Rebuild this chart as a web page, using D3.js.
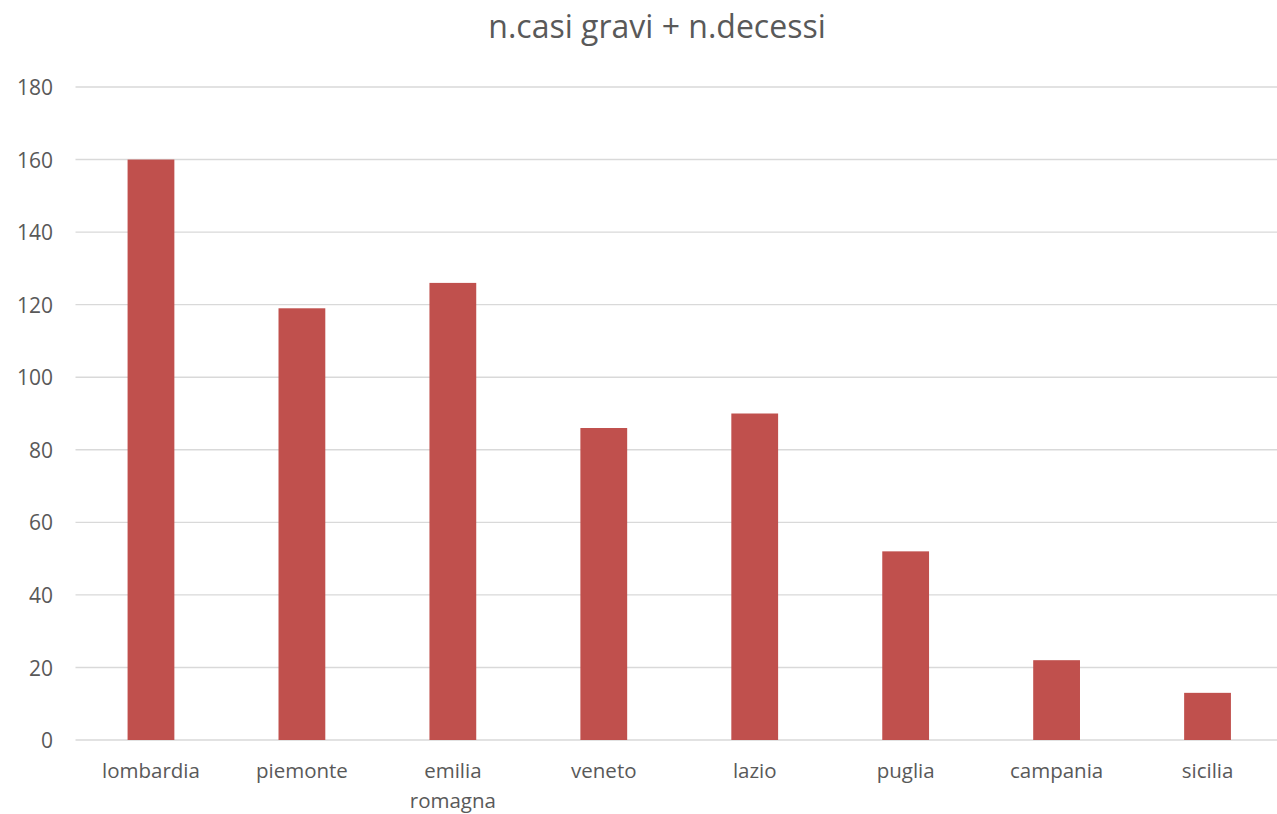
<!DOCTYPE html>
<html>
<head>
<meta charset="utf-8">
<script src="https://cdn.jsdelivr.net/npm/d3@7"></script>
<style>
  html, body { margin: 0; padding: 0; background: #fff; }
  svg { display: block; }
  svg text { font-family: "Open Sans", Lato, sans-serif; fill: #595959; }
</style>
</head>
<body>
<svg id="chart" width="1277" height="814"></svg>
<script>
// Regions and combined count of severe cases plus deaths
const categories = ["lombardia", "piemonte", "emilia romagna", "veneto", "lazio", "puglia", "campania", "sicilia"];
const values = [160, 119, 126, 86, 90, 52, 22, 13];
const yTicks = [0, 20, 40, 60, 80, 100, 120, 140, 160, 180];
const title = "n.casi gravi + n.decessi";

const svg = d3.select("#chart");
const margin = { left: 75.5, right: -6, top: 87, bottom: 74 };
const W = 1277, H = 814;

const x = d3.scaleBand()
  .domain(categories)
  .range([margin.left, W - margin.right])
  .paddingInner(0.69)
  .paddingOuter(0.345);

const y = d3.scaleLinear()
  .domain([0, 180])
  .range([H - margin.bottom, margin.top]);

// Gridlines
svg.append("g")
  .selectAll("line")
  .data(yTicks)
  .join("line")
  .attr("x1", margin.left)
  .attr("x2", W)
  .attr("y1", d => y(d))
  .attr("y2", d => y(d))
  .attr("stroke", "#d9d9d9")
  .attr("stroke-width", 1.4);

// Bars
svg.append("g")
  .selectAll("rect")
  .data(values)
  .join("rect")
  .attr("x", (d, i) => x(categories[i]))
  .attr("width", x.bandwidth())
  .attr("y", d => y(d))
  .attr("height", d => y(0) - y(d))
  .attr("fill", "#c0504d");

// Y axis labels
const yAxis = d3.axisLeft(y).tickValues(yTicks).tickSize(0).tickPadding(0);
const yg = svg.append("g")
  .attr("transform", `translate(53,0)`)
  .call(yAxis)
  .attr("font-family", null)
  .attr("font-size", 21);
yg.select(".domain").remove();
yg.selectAll("text").attr("fill", null).attr("dy", "0.36em");

// X axis labels, wrapped on spaces
const xAxis = d3.axisBottom(x).tickSize(0).tickPadding(0).tickFormat("");
const xg = svg.append("g")
  .attr("transform", `translate(0,${y(0)})`)
  .call(xAxis)
  .attr("font-family", null)
  .attr("font-size", 20.5);
xg.select(".domain").remove();
xg.selectAll(".tick").each(function(d) {
  const t = d3.select(this).append("text")
    .attr("text-anchor", "middle")
    .attr("y", 38);
  d.split(" ").forEach((w, i) => {
    t.append("tspan").attr("x", 0).attr("dy", i === 0 ? 0 : 30).text(w);
  });
});

// Title
svg.append("text")
  .attr("x", 657)
  .attr("y", 38)
  .attr("text-anchor", "middle")
  .style("font-size", "32px")
  .text(title);
</script>
</body>
</html>
